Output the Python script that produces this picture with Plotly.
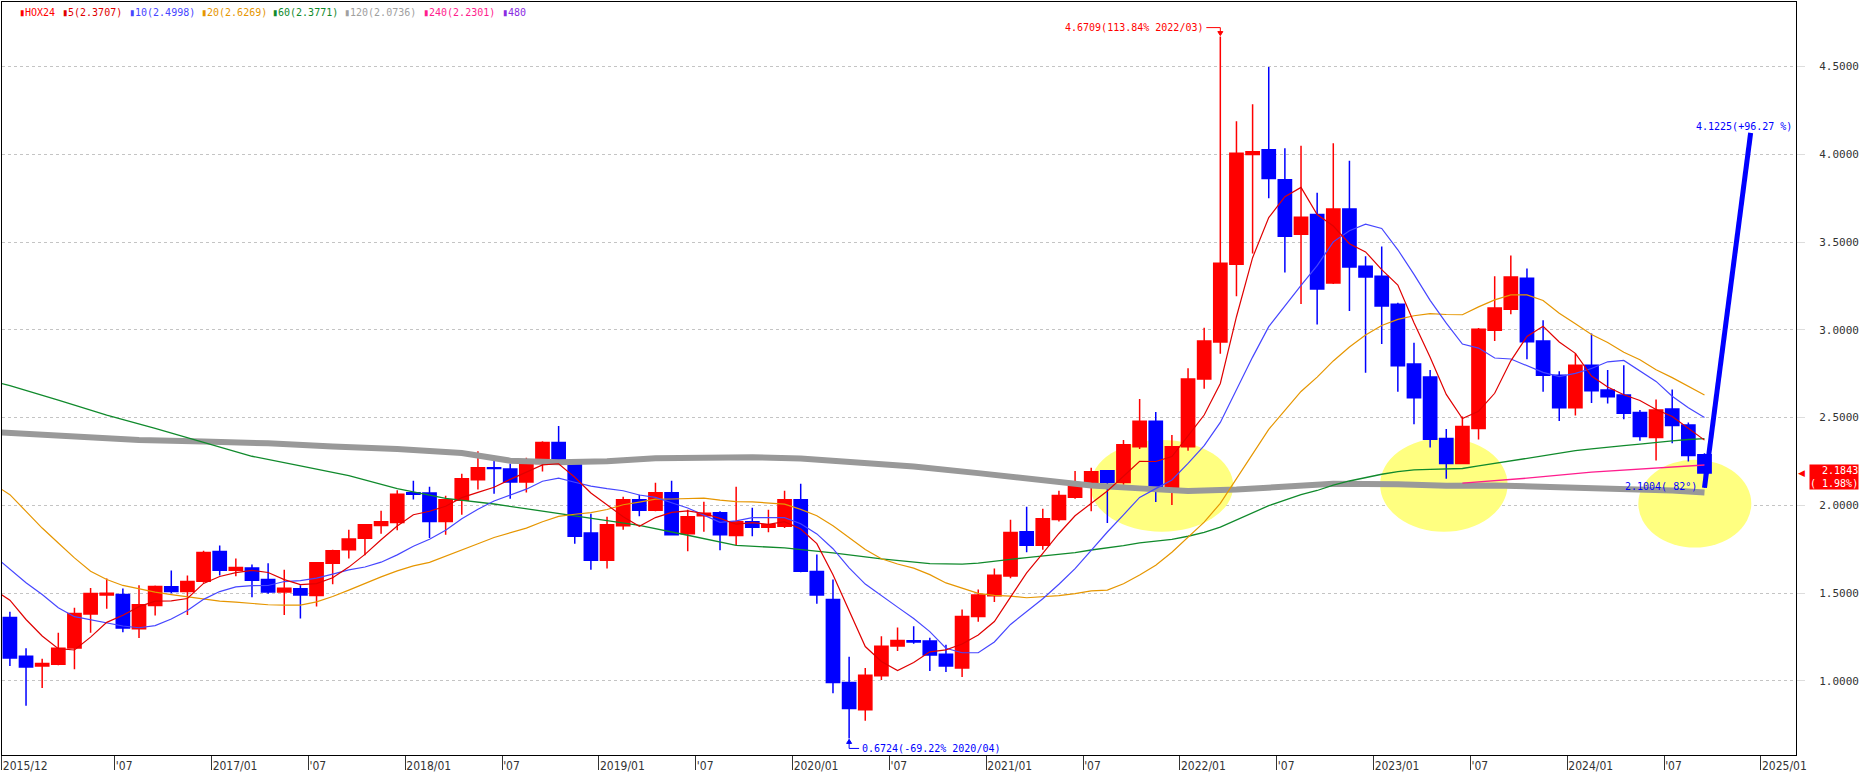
import plotly.graph_objects as go
import pandas as pd

# ---------------- data ----------------
symbol = "HOX24"
first_month = "2015-12"

open_ = [1.362, 1.140, 1.085, 1.095, 1.188, 1.381, 1.489, 1.492, 1.297, 1.430,
         1.536, 1.509, 1.568, 1.737, 1.631, 1.644, 1.578, 1.506, 1.525, 1.487,
         1.670, 1.748, 1.8125, 1.886, 1.902, 2.072, 2.070, 1.909, 2.030, 2.146,
         2.214, 2.208, 2.134, 2.239, 2.358, 2.245, 1.843, 1.6875, 1.884, 2.032,
         1.972, 2.072, 1.839, 1.941, 1.958, 1.828, 1.907, 1.875, 1.881, 2.032,
         1.623, 1.464, 0.991, 0.836, 1.029, 1.199, 1.229, 1.227, 1.152, 1.074,
         1.367, 1.485, 1.598, 1.850, 1.773, 1.920, 2.046, 2.112, 2.198, 2.131,
         2.334, 2.480, 2.104, 2.334, 2.720, 2.931, 3.374, 3.999, 4.026, 3.855,
         3.545, 3.657, 3.267, 3.689, 3.362, 3.305, 3.146, 2.805, 2.731, 2.381,
         2.239, 2.438, 2.998, 3.117, 3.294, 2.936, 2.742, 2.557, 2.799, 2.657,
         2.629, 2.529, 2.387, 2.549, 2.458, 2.288]

high = [1.394, 1.186, 1.127, 1.275, 1.417, 1.530, 1.583, 1.527, 1.545, 1.544,
        1.629, 1.600, 1.742, 1.771, 1.697, 1.663, 1.670, 1.634, 1.545, 1.674,
        1.748, 1.862, 1.890, 1.970, 2.087, 2.140, 2.106, 2.055, 2.180, 2.309,
        2.259, 2.239, 2.271, 2.366, 2.453, 2.250, 1.953, 1.936, 2.049, 2.061,
        2.129, 2.140, 1.975, 2.021, 1.966, 2.106, 1.987, 1.975, 2.083, 2.123,
        1.720, 1.578, 1.138, 1.074, 1.254, 1.305, 1.311, 1.246, 1.206, 1.407,
        1.521, 1.640, 1.918, 1.992, 1.981, 2.084, 2.196, 2.215, 2.199, 2.372,
        2.606, 2.532, 2.401, 2.781, 3.012, 4.6709, 4.188, 4.285, 4.498, 4.035,
        4.049, 3.781, 4.063, 3.964, 3.419, 3.475, 3.155, 2.926, 2.771, 2.436,
        2.506, 3.011, 3.305, 3.424, 3.350, 3.055, 2.765, 2.867, 2.979, 2.771,
        2.799, 2.544, 2.604, 2.661, 2.473, 2.297]

low = [1.085, 0.858, 0.960, 1.089, 1.066, 1.275, 1.411, 1.278, 1.244, 1.373,
       1.500, 1.375, 1.559, 1.600, 1.597, 1.477, 1.496, 1.375, 1.356, 1.424,
       1.551, 1.697, 1.716, 1.839, 1.858, 2.034, 1.814, 1.833, 1.947, 2.091,
       2.066, 2.038, 2.074, 2.193, 2.240, 1.782, 1.634, 1.640, 1.862, 1.9375,
       1.966, 1.828, 1.739, 1.850, 1.744, 1.775, 1.824, 1.847, 1.871, 1.619,
       1.439, 0.930, 0.6724, 0.773, 1.006, 1.171, 1.212, 1.057, 1.051, 1.023,
       1.337, 1.449, 1.585, 1.733, 1.748, 1.908, 2.038, 1.966, 1.900, 2.118,
       2.322, 2.019, 2.003, 2.311, 2.664, 2.864, 3.192, 3.435, 3.750, 3.327,
       3.147, 3.030, 3.262, 3.108, 2.756, 2.920, 2.648, 2.462, 2.330, 2.152,
       2.239, 2.375, 2.936, 3.089, 2.833, 2.648, 2.481, 2.512, 2.583, 2.581,
       2.491, 2.369, 2.256, 2.354, 2.250, 2.1004]

close = [1.131, 1.080, 1.100, 1.186, 1.384, 1.498, 1.500, 1.301, 1.434, 1.538,
         1.509, 1.566, 1.731, 1.631, 1.646, 1.574, 1.506, 1.528, 1.489, 1.674,
         1.742, 1.809, 1.890, 1.907, 2.064, 2.064, 1.909, 2.032, 2.152, 2.214,
         2.210, 2.134, 2.239, 2.358, 2.245, 1.824, 1.6875, 1.890, 2.032, 1.972,
         2.072, 1.833, 1.936, 1.956, 1.833, 1.907, 1.875, 1.890, 2.032, 1.625,
         1.489, 0.991, 0.843, 1.032, 1.197, 1.231, 1.222, 1.148, 1.085, 1.367,
         1.489, 1.602, 1.845, 1.773, 1.924, 2.056, 2.108, 2.192, 2.130, 2.345,
         2.480, 2.104, 2.334, 2.720, 2.936, 3.379, 4.006, 4.015, 3.862, 3.534,
         3.641, 3.233, 3.689, 3.358, 3.301, 3.136, 2.795, 2.614, 2.377, 2.239,
         2.449, 3.004, 3.125, 3.301, 2.932, 2.742, 2.557, 2.799, 2.653, 2.619,
         2.525, 2.392, 2.544, 2.455, 2.284, 2.1843]

# moving-average values read off the chart where the history is not on screen
ma5_lead = [1.52, 1.460, 1.350, 1.256, 1.184]                 # 2015/11 .. 2016/03
ma10_lead = [1.714, 1.634, 1.559, 1.492, 1.417, 1.366, 1.347,
             1.331, 1.313, 1.303]                               # 2015/11 .. 2016/08
ma20_lead = [2.12, 2.061, 1.966, 1.871, 1.786, 1.701, 1.625, 1.578, 1.544, 1.525,
             1.506, 1.492, 1.479, 1.464, 1.455, 1.449, 1.441, 1.434, 1.432,
             1.432]                                              # 2015/11 .. 2017/06
ma60_lead_months = ["2015/11", "2015/12", "2016/03", "2016/06", "2016/09", "2016/12",
                    "2017/03", "2017/06", "2017/09", "2017/12", "2018/03", "2018/06",
                    "2018/09", "2018/12", "2019/03", "2019/06", "2019/09", "2019/12",
                    "2020/03", "2020/06", "2020/09", "2020/10"]
ma60_lead_values = [2.706, 2.682, 2.60, 2.515, 2.439, 2.36, 2.28, 2.225, 2.17, 2.095,
                    2.04, 2.008, 1.968, 1.927, 1.886, 1.83, 1.772, 1.758, 1.73,
                    1.695, 1.668, 1.667]
ma120_months = ["2015/11", "2015/12", "2016/04", "2016/08", "2016/12", "2017/04",
                "2017/08", "2017/12", "2018/04", "2018/07", "2018/10", "2019/01",
                "2019/04", "2019/07", "2019/10", "2020/01", "2020/04", "2020/08",
                "2020/12", "2021/04", "2021/07", "2021/10", "2022/01", "2022/04",
                "2022/07", "2022/10", "2023/02", "2023/05", "2023/08", "2023/12",
                "2024/04", "2024/07", "2024/09"]
ma120_values = [2.418, 2.413, 2.395, 2.372, 2.364, 2.354, 2.335, 2.322, 2.298, 2.255,
                2.246, 2.252, 2.269, 2.275, 2.275, 2.267, 2.250, 2.222, 2.184, 2.143,
                2.113, 2.097, 2.082, 2.090, 2.110, 2.124, 2.121, 2.112, 2.114, 2.106,
                2.097, 2.085, 2.0736]
ma240_months = ["2023/06", "2023/10", "2024/02", "2024/06", "2024/09"]
ma240_values = [2.127, 2.155, 2.19, 2.215, 2.2301]

legend_values = {"5": "2.3707", "10": "2.4998", "20": "2.6269", "60": "2.3771",
                 "120": "2.0736", "240": "2.2301", "480": ""}

high_text = "4.6709(113.84% 2022/03)"
low_text = "0.6724(-69.22% 2020/04)"
trend_start = ("2024/09", 2.1004)
trend_end_value = 4.1225
trend_end_offset = 2.86      # months to the right of the start month
trend_angle_text = "2.1004( 82°)"
trend_end_text = "4.1225(+96.27 %)"
last_price_text = "2.1843<br>( 1.98%)"
last_price = 2.1843

y_ticks = [1.0, 1.5, 2.0, 2.5, 3.0, 3.5, 4.0, 4.5]

# ---------------- helpers ----------------
months = pd.period_range(first_month, periods=len(close), freq="M")
y0, m0 = months[0].year, months[0].month


def mi(label):
    y, m = label.split("/")
    return (int(y) - y0) * 12 + int(m) - m0


xs = list(range(len(close)))
cs = pd.Series(close)


def ma_series(n, lead):
    vals = cs.rolling(n).mean()
    xx = list(range(-1, n - 1)) + list(range(n - 1, len(close)))
    yy = list(lead) + list(vals[n - 1:])
    return xx, yy


C_UP, C_DN = "#ff0000", "#0000ff"
C5, C10, C20, C60, C120, C240, C480 = ("#e00000", "#4646ff", "#e69600", "#108a2c",
                                       "#999999", "#ff1d8e", "#8a2be2")

fig = go.Figure()
fig.add_trace(go.Candlestick(
    x=xs, open=open_, high=high, low=low, close=close,
    increasing=dict(line=dict(color=C_UP, width=1.5), fillcolor=C_UP),
    decreasing=dict(line=dict(color=C_DN, width=1.5), fillcolor=C_DN),
    whiskerwidth=0, showlegend=False, hoverinfo="skip"))

# moving averages
x60 = [mi(m) for m in ma60_lead_months] + list(range(59, len(close)))
y60 = ma60_lead_values + list(cs.rolling(60).mean()[59:])
fig.add_trace(go.Scatter(x=[mi(m) for m in ma120_months], y=ma120_values, mode="lines",
                         line=dict(color=C120, width=6), showlegend=False, hoverinfo="skip"))
fig.add_trace(go.Scatter(x=[mi(m) for m in ma240_months], y=ma240_values, mode="lines",
                         line=dict(color=C240, width=1.3), showlegend=False, hoverinfo="skip"))
fig.add_trace(go.Scatter(x=x60, y=y60, mode="lines",
                         line=dict(color=C60, width=1.3), showlegend=False, hoverinfo="skip"))
for n, lead, col in [(20, ma20_lead, C20), (10, ma10_lead, C10), (5, ma5_lead, C5)]:
    xx, yy = ma_series(n, lead)
    fig.add_trace(go.Scatter(x=xx, y=yy, mode="lines", line=dict(color=col, width=1.2),
                             showlegend=False, hoverinfo="skip"))

# trend line
tx0 = mi(trend_start[0])
fig.add_trace(go.Scatter(x=[tx0, tx0 + trend_end_offset], y=[trend_start[1], trend_end_value],
                         mode="lines", line=dict(color="#0000ff", width=5),
                         showlegend=False, hoverinfo="skip"))

# ---------------- layout ----------------
W, H = 1863, 774
ML, MR, MT, MB = 1, 67, 1, 18
px_per_month = 16.148
x_first_center = 8.9 - ML
x_lo = -x_first_center / px_per_month
x_hi = x_lo + (W - ML - MR) / px_per_month
y_lo, y_hi = 0.578, 4.868

tick_idx, tick_txt = [], []
for i, p in enumerate(list(months) + list(pd.period_range(months[-1] + 1, periods=6, freq="M"))):
    if i == 0:
        tick_idx.append(i - 0.5)
        tick_txt.append(p.strftime("%Y/%m"))
    elif i >= 6 and p.month in (1, 7):
        tick_idx.append(i - 0.5)
        tick_txt.append(p.strftime("%Y/%m") if p.month == 1 else "'07")

shapes = []
# yellow highlight ellipses (month range, value range)
for (ma, mb, va, vb) in [(66.95, 75.8, 1.850, 2.373), (84.9, 92.8, 1.850, 2.385),
                         (100.9, 107.9, 1.760, 2.260)]:
    shapes.append(dict(type="circle", xref="x", yref="y", x0=ma, x1=mb, y0=va, y1=vb,
                       fillcolor="#ffff80", line=dict(width=0), layer="between"))

hi_i = high.index(max(high))
lo_i = low.index(min(low))
shapes += [
    dict(type="path", xref="x", yref="y", xsizemode="pixel", ysizemode="pixel",
         xanchor=hi_i, yanchor=high[hi_i], path="M -14 9 L 0 9 L 0 2",
         line=dict(color="#ff0000", width=1)),
    dict(type="path", xref="x", yref="y", xsizemode="pixel", ysizemode="pixel",
         xanchor=hi_i, yanchor=high[hi_i], path="M -2.5 5 L 2.5 5 L 0 1 Z",
         fillcolor="#ff0000", line=dict(color="#ff0000", width=1)),
    dict(type="path", xref="x", yref="y", xsizemode="pixel", ysizemode="pixel",
         xanchor=lo_i, yanchor=low[lo_i], path="M 0 -1 L 0 -10 L 10 -10",
         line=dict(color="#0000ff", width=1)),
    dict(type="path", xref="x", yref="y", xsizemode="pixel", ysizemode="pixel",
         xanchor=lo_i, yanchor=low[lo_i], path="M -2.5 -5 L 2.5 -5 L 0 -1 Z",
         fillcolor="#0000ff", line=dict(color="#0000ff", width=1)),
]

MONO = "DejaVu Sans Mono, Liberation Mono, monospace"
ann = [
    dict(x=hi_i, y=high[hi_i], xref="x", yref="y", text=high_text, showarrow=False,
         xanchor="right", yanchor="middle", xshift=-15, yshift=9,
         font=dict(family=MONO, size=10, color="#ff0000")),
    dict(x=lo_i, y=low[lo_i], xref="x", yref="y", text=low_text, showarrow=False,
         xanchor="left", yanchor="middle", xshift=11, yshift=-10,
         font=dict(family=MONO, size=10, color="#0000ff")),
    dict(x=tx0, y=trend_start[1], xref="x", yref="y", text=trend_angle_text, showarrow=False,
         xanchor="right", yanchor="middle", xshift=-5, yshift=1,
         font=dict(family=MONO, size=10, color="#0000ff")),
    dict(x=tx0 + trend_end_offset, y=trend_end_value, xref="x", yref="y", text=trend_end_text,
         showarrow=False, xanchor="center", yanchor="middle", xshift=-7, yshift=6,
         font=dict(family=MONO, size=10, color="#0000ff")),
    dict(x=1, y=last_price, xref="paper", yref="y", text=last_price_text, showarrow=False,
         xanchor="left", yanchor="middle", xshift=13, yshift=-4, align="right",
         bgcolor="#ff0000", borderpad=0,
         font=dict(family=MONO, size=10, color="#ffffff")),
    dict(x=1, y=last_price, xref="paper", yref="y", text="◀", showarrow=False,
         xanchor="left", yanchor="middle", xshift=0, yshift=0,
         font=dict(family="DejaVu Sans", size=9, color="#ff0000")),
]

legend_items = [(symbol, C_UP, 16)] + [
    (f"{k}({v})" if v else k, col, px) for (k, v), col, px in
    zip(legend_values.items(), [C5, C10, C20, C60, "#a0a0a0", C240, C480],
        [59, 126, 198, 269, 341, 420, 499])]
for txt, col, px in legend_items:
    ann.append(dict(x=(px - ML) / (W - ML - MR), y=1, xref="paper", yref="paper",
                    text="▮" + txt, showarrow=False, xanchor="left", yanchor="middle",
                    yshift=-10, font=dict(family=MONO, size=10, color=col)))

fig.update_layout(
    width=W, height=H, autosize=False,
    margin=dict(l=ML, r=MR, t=MT, b=MB, pad=0),
    paper_bgcolor="white", plot_bgcolor="white",
    boxgap=0.18, boxgroupgap=0, showlegend=False,
    shapes=shapes, annotations=ann,
    xaxis=dict(range=[x_lo, x_hi], showgrid=False, zeroline=False, showline=True,
               linecolor="black", linewidth=1, mirror=True,
               tickmode="array", tickvals=tick_idx, ticktext=tick_txt,
               ticks="outside", ticklen=14, tickwidth=1, tickcolor="#333333",
               ticklabelposition="outside right",
               tickfont=dict(family="Liberation Sans Narrow, DejaVu Sans Condensed, sans-serif",
                             size=12, color="#333333"),
               rangeslider=dict(visible=False)),
    yaxis=dict(side="right", range=[y_lo, y_hi], zeroline=False,
               showgrid=True, gridcolor="#c4c4c4", griddash="dot", gridwidth=1,
               showline=True, linecolor="black", linewidth=1, mirror=True,
               tickmode="array", tickvals=y_ticks, ticktext=[f"{v:.4f}" for v in y_ticks],
               ticks="outside", ticklen=8, tickcolor="#dddddd", ticklabelstandoff=12,
               tickfont=dict(family=MONO, size=11, color="#333333")),
)

fig.write_html("out.html", config={"displayModeBar": False},
               post_script="document.body.style.margin='0';document.body.style.overflow='hidden';")
